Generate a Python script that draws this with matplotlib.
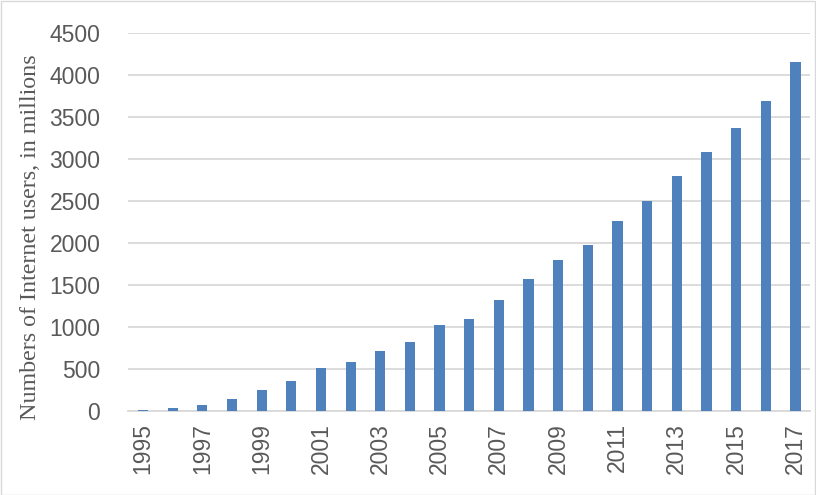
import matplotlib
matplotlib.use("Agg")
from matplotlib import pyplot as plt

# Internet users worldwide, in millions
years = list(range(1995, 2018))
users = [16, 36, 70, 147, 248, 361, 513, 587, 719, 817, 1018, 1093,
         1319, 1574, 1802, 1971, 2267, 2497, 2802, 3079, 3366, 3696, 4156]
yticks = [0, 500, 1000, 1500, 2000, 2500, 3000, 3500, 4000, 4500]

fig = plt.figure(figsize=(8.16, 4.95), dpi=100)
ax = fig.add_axes([0.157, 0.170, 0.836, 0.763])

pos = list(range(len(years)))
ax.bar(pos, users, width=0.34, color="#4f81bd", zorder=3)

ax.set_xlim(-0.5, len(years) - 0.5)
ax.set_ylim(0, 4500)
ax.set_yticks(yticks)
ax.set_yticklabels([str(t) for t in yticks], fontsize=16.5, color="#595959",
                   family="Liberation Sans")
ax.set_xticks(pos[::2])
ax.set_xticklabels([str(y) for y in years[::2]], rotation=90, fontsize=16.5,
                   color="#595959", family="Liberation Sans")
ax.tick_params(axis="y", length=0, pad=20)
ax.tick_params(axis="x", length=0, pad=9)

ax.grid(axis="y", color="#d9d9d9", linewidth=1.3, zorder=0)
for s in ["top", "right", "left"]:
    ax.spines[s].set_visible(False)
ax.spines["bottom"].set_color("#d9d9d9")
ax.spines["bottom"].set_linewidth(1.3)

ax.set_ylabel("Numbers of Internet users, in millions", family="Liberation Serif",
              fontsize=17.3, color="#595959")
ax.yaxis.set_label_coords(-0.127, 0.46)

# light border around the picture
fig.patches.append(plt.Rectangle((0.001, 0.001), 0.998, 0.997, transform=fig.transFigure,
                                 fill=False, edgecolor="#d9d9d9", linewidth=1))

fig.savefig("out.png", dpi=100)
